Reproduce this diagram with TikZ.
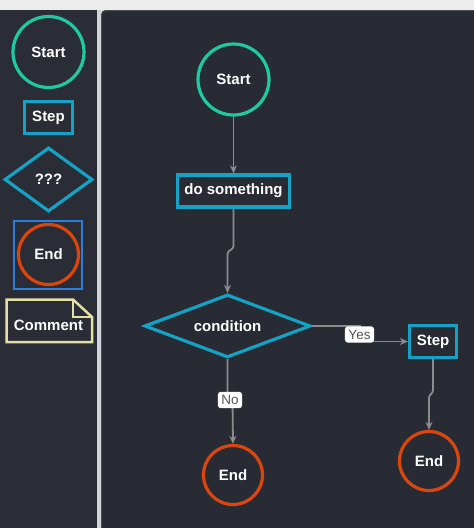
\documentclass[tikz,border=0pt]{standalone}
\usepackage{fontspec}
\setmainfont{Liberation Sans}
\usetikzlibrary{shapes.geometric,arrows.meta}
\definecolor{bgpanel}{HTML}{282B33}
\definecolor{bgside}{HTML}{2A2D35}
\definecolor{topstrip}{HTML}{ECECEC}
\definecolor{sep}{HTML}{D2D3D6}
\definecolor{startc}{HTML}{1FC9A2}
\definecolor{stepc}{HTML}{14A3C7}
\definecolor{endc}{HTML}{D9470F}
\definecolor{endbox}{HTML}{2B7FDE}
\definecolor{notec}{HTML}{E4DFA6}
\definecolor{edgec}{HTML}{8A8C90}
\definecolor{labtext}{HTML}{555555}
\tikzset{
  txt/.style={text=white,font=\fontsize{15}{17}\selectfont\bfseries},
  startnode/.style={txt,circle,draw=startc,line width=3.2pt,minimum size=71pt,inner sep=0pt},
  endnode/.style={txt,circle,draw=endc,line width=3.2pt,minimum size=59pt,inner sep=0pt},
  stepbox/.style={txt,rectangle,draw=stepc,line width=3.2pt,minimum height=32pt,inner sep=4pt},
  decision/.style={txt,diamond,draw=stepc,line width=3.2pt,inner sep=0pt},
  edge/.style={draw=edgec,line width=1.8pt,-{Stealth[length=8pt,width=7pt]}},
  elabel/.style={fill=white,rounded corners=3pt,text=labtext,inner sep=3.5pt,font=\fontsize{13.5}{15}\selectfont}
}
\begin{document}
\begin{tikzpicture}[x=1pt,y=-1pt]
\useasboundingbox (0,0) rectangle (474,528);
% backgrounds
\fill[topstrip] (0,0) rectangle (474,528);
\fill[bgside] (0,10) rectangle (97,528);
\fill[sep] (97,10) rectangle (101,528);
\fill[bgpanel,draw=black!70,line width=1pt,rounded corners=4pt] (101.5,10.5) rectangle (480,540);
% palette
\node[startnode] (pstart) at (48.5,52) {Start};
\node[stepbox,minimum width=48pt] (pstep) at (48.5,117.5) {Step};
\node[decision,aspect=1.4,minimum width=88pt,minimum height=64pt] (pdec) at (48.5,179.5) {???};
\node[draw=endbox,line width=2.5pt,minimum size=68pt,inner sep=0pt] (pendbox) at (48,255) {};
\node[endnode,minimum size=60pt] (pend) at (48.5,254.5) {End};
\draw[notec,line width=2.5pt,fill=bgside] (6.5,299.5) -- (73,299.5) -- (92,317) -- (92,342) -- (6.5,342) -- cycle;
\draw[notec,line width=2.5pt] (73,299.5) -- (73,317) -- (92,317);
\node[txt] (pnote) at (48.5,325) {Comment};
% main flow
\node[startnode] (start) at (233.5,79.5) {Start};
\node[stepbox,minimum width=112pt] (ds) at (233.5,191) {do something};
\node[decision,aspect=2.6,minimum width=166pt,minimum height=63pt] (cond) at (227.5,326) {condition};
\node[stepbox,minimum width=47pt] (step) at (433,341.5) {Step};
\node[endnode] (endl) at (233,475) {End};
\node[endnode] (endr) at (429,461) {End};
% edges
\draw[edge] (start) -- (ds);
\coordinate (j1a) at (233.5,246);
\coordinate (j1b) at (227.5,254);
\draw[edge] (ds.south) -- (j1a) .. controls (233.5,250) and (227.5,250) .. (j1b) -- (cond.north);
\coordinate (y1) at (360,326);
\coordinate (y2) at (360,341.5);
\draw[edge] (cond.east) -- (y1) -- (y2) -- (step.west);
\node[elabel] (lyes) at (359.5,334.5) {Yes};
\coordinate (n1) at (227.5,400);
\coordinate (n2) at (232.5,400);
\draw[edge] (cond.south) -- (n1) -- (n2) -- (endl.north);
\node[elabel] (lno) at (230,400) {No};
\coordinate (s1) at (433,390);
\coordinate (s2) at (429,398);
\draw[edge] (step.south) -- (s1) .. controls (433,394) and (429,394) .. (s2) -- (endr.north);
\end{tikzpicture}
\end{document}
